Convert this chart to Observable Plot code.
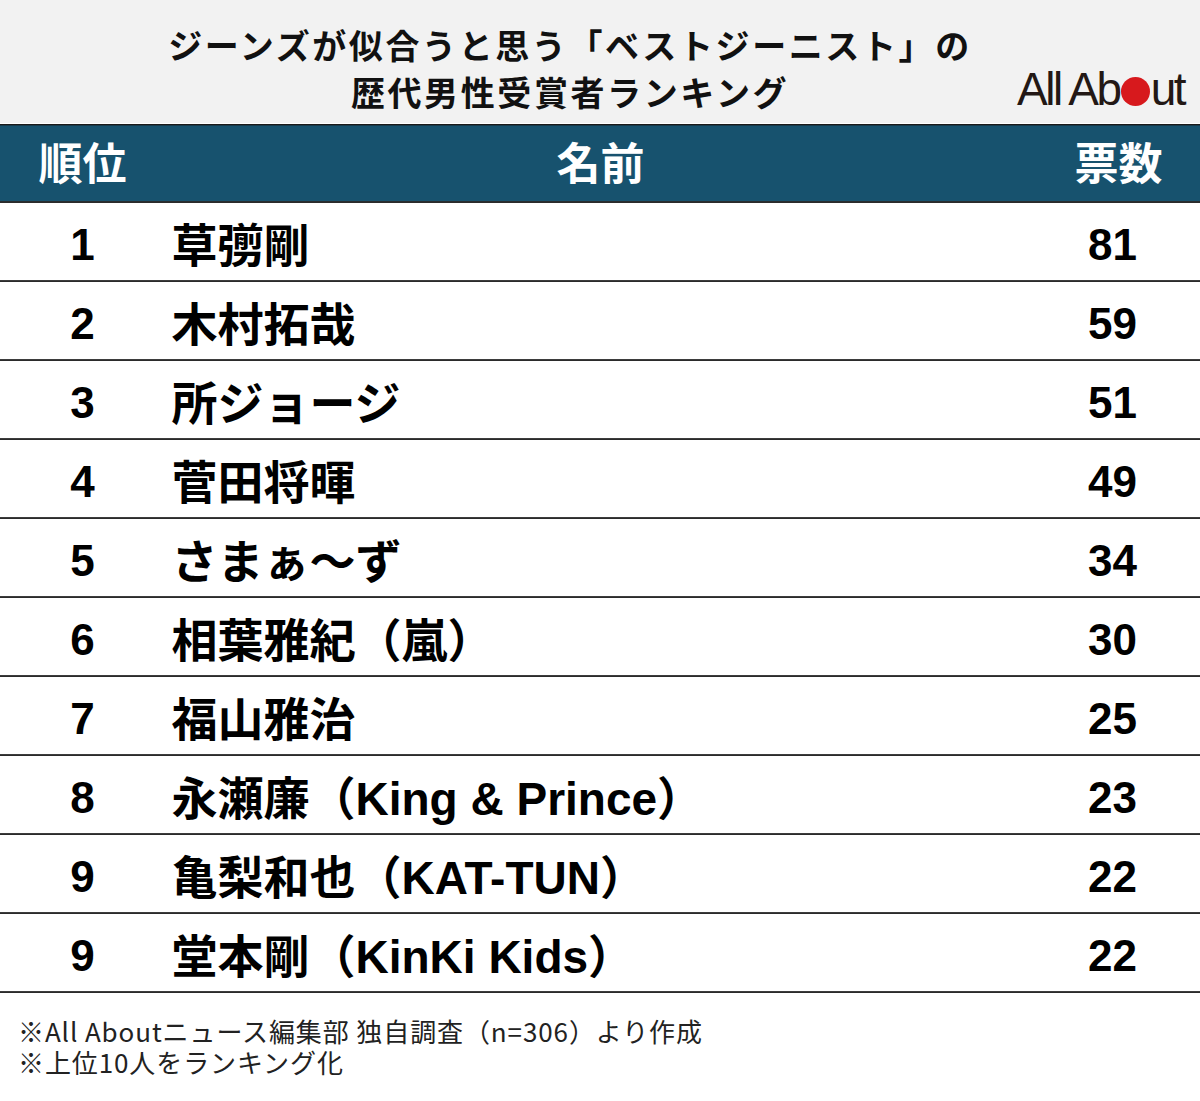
<!DOCTYPE html>
<html><head><meta charset="utf-8">
<script src="https://cdn.jsdelivr.net/npm/d3@7"></script>
<script src="https://cdn.jsdelivr.net/npm/@observablehq/plot@0.6"></script>
<style>
html,body{margin:0;padding:0;background:#fff;}
body{width:1200px;}
#title{height:123px;background:#f2f2f2;position:relative;box-sizing:border-box;}
#title .t{position:absolute;left:0;width:1140px;top:21px;text-align:center;font-family:"Noto Sans CJK JP",sans-serif;font-weight:700;font-size:34px;line-height:47px;letter-spacing:2.6px;color:#111;}
#title .logo{position:absolute;right:16px;top:64px;font-family:"Liberation Sans",Arial,sans-serif;font-size:46px;letter-spacing:-2.5px;color:#231815;line-height:50px;}
#title .logo .o{display:inline-block;width:29px;height:29px;border-radius:50%;background:#d7191d;margin:0 1px 0 1px;vertical-align:-1px;}
#chart svg{display:block;}
#foot{padding:22px 0 0 18px;font-family:"Noto Sans CJK JP",sans-serif;font-size:26px;line-height:31px;letter-spacing:0.9px;color:#222;}
#foot div{height:31px;}
</style></head>
<body>
<div id="title"><div class="t" id="tt"></div><div class="logo">All Ab<span class="o"></span>ut</div></div>
<div id="chart"></div>
<div id="foot"></div>
<script>
const titleLines = ["ジーンズが似合うと思う「ベストジーニスト」の", "歴代男性受賞者ランキング"];
const headers = ["順位", "名前", "票数"];
const ranks = [1, 2, 3, 4, 5, 6, 7, 8, 9, 9];
const names = ["草彅剛", "木村拓哉", "所ジョージ", "菅田将暉", "さまぁ〜ず", "相葉雅紀（嵐）", "福山雅治", "永瀬廉（King & Prince）", "亀梨和也（KAT-TUN）", "堂本剛（KinKi Kids）"];
const votes = [81, 59, 51, 49, 34, 30, 25, 23, 22, 22];
const notes = ["※All Aboutニュース編集部 独自調査（n=306）より作成", "※上位10人をランキング化"];

document.getElementById("tt").innerHTML = titleLines.join("<br>");
const foot = document.getElementById("foot");
notes.forEach(n => { const d = document.createElement("div"); d.textContent = n; foot.appendChild(d); });

const rows = ranks.map((r, i) => ({key: "r" + i, rank: r, name: names[i], votes: votes[i]}));
const keys = ["h", ...rows.map(d => d.key)];
const H = 870;
const bw = H / keys.length;
const latin = "'Liberation Sans', 'Noto Sans CJK JP', sans-serif";

const chart = Plot.plot({
  width: 1200, height: H, margin: 0,
  x: {axis: null},
  y: {axis: null, domain: keys, padding: 0, range: [0, H]},
  style: {background: "#fff"},
  marks: [
    Plot.cell(["h"], {y: d => d, fill: "#17526e"}),
    Plot.cell(["h"], {y: d => d, fill: "#1a1a1a", insetBottom: bw - 1.5}),
    Plot.cell(keys, {y: d => d, fill: "#2b2b2b", insetTop: bw - 2}),
    Plot.text([headers[0]], {y: () => "h", text: d => d, frameAnchor: "left", dx: 82, dy: 2, textAnchor: "middle", fill: "#fff", fontSize: 44, fontWeight: 700, fontFamily: "'Noto Sans CJK JP', sans-serif"}),
    Plot.text([headers[1]], {y: () => "h", text: d => d, frameAnchor: "middle", dy: 2, textAnchor: "middle", fill: "#fff", fontSize: 44, fontWeight: 700, fontFamily: "'Noto Sans CJK JP', sans-serif"}),
    Plot.text([headers[2]], {y: () => "h", text: d => d, frameAnchor: "right", dx: -82, dy: 2, textAnchor: "middle", fill: "#fff", fontSize: 44, fontWeight: 700, fontFamily: "'Noto Sans CJK JP', sans-serif"}),
    Plot.text(rows, {y: "key", text: d => String(d.rank), frameAnchor: "left", dx: 82, dy: 3, textAnchor: "middle", fill: "#000", fontSize: 44, fontWeight: 700, fontFamily: latin}),
    Plot.text(rows, {y: "key", text: "name", frameAnchor: "left", dx: 171, dy: 4, textAnchor: "start", fill: "#000", fontSize: 46, fontWeight: 700, fontFamily: latin}),
    Plot.text(rows, {y: "key", text: d => String(d.votes), frameAnchor: "right", dx: -88, dy: 3, textAnchor: "middle", fill: "#000", fontSize: 44, fontWeight: 700, fontFamily: latin})
  ]
});
document.getElementById("chart").appendChild(chart);
</script>
</body></html>
